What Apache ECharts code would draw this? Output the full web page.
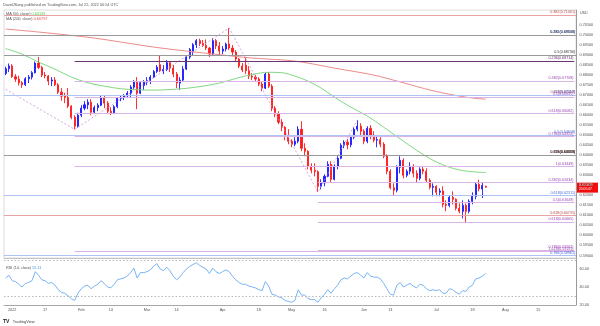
<!DOCTYPE html>
<html><head><meta charset="utf-8">
<script src="https://cdn.jsdelivr.net/npm/echarts@6/dist/echarts.min.js"></script>
<style>html,body{margin:0;padding:0;background:#fff}#c{width:600px;height:326px}</style>
</head><body><div id="c"></div>
<script>
// ================= DATA =================
const firstDay = '2021-12-30';
const axisDayCount = 174;              // weekday slots on the time axis (incl. future space)

const opens = [
.6808,.6832,.6846,.6792,.6780,.6762,.6752,.6782,.6790,.6812,
.6860,.6838,.6800,.6796,.6770,.6776,.6752,.6715,.6695,.6688,
.6645,.6590,.6545,.6600,.6635,.6652,.6665,.6615,.6638,.6650,
.6688,.6660,.6620,.6612,.6642,.6684,.6690,.6696,.6710,.6740,
.6765,.6710,.6748,.6765,.6772,.6790,.6818,.6852,.6822,.6828,
.6862,.6835,.6805,.6760,.6775,.6830,.6890,.6915,.6952,.6972,
.6958,.6948,.6935,.6905,.6972,.6945,.6920,.6930,.6955,.6935,
.6915,.6880,.6845,.6850,.6822,.6795,.6790,.6780,.6755,.6735,
.6805,.6745,.6635,.6605,.6565,.6540,.6495,.6470,.6455,.6470,
.6530,.6435,.6420,.6345,.6325,.6318,.6245,.6262,.6295,.6355,
.6280,.6345,.6385,.6450,.6465,.6452,.6490,.6530,.6545,.6520,
.6470,.6535,.6495,.6475,.6478,.6455,.6395,.6320,.6238,.6225,
.6340,.6375,.6300,.6320,.6345,.6310,.6285,.6330,.6320,.6275,
.6240,.6245,.6215,.6222,.6155,.6150,.6190,.6180,.6135,.6120,
.6150,.6120,.6170,.6195,.6255,.6232,.6245];
const closes = [
.6832,.6846,.6792,.6780,.6762,.6752,.6782,.6790,.6812,.6860,
.6838,.6800,.6796,.6770,.6776,.6752,.6715,.6695,.6688,.6645,
.6590,.6545,.6600,.6635,.6652,.6665,.6615,.6638,.6650,.6688,
.6660,.6620,.6612,.6642,.6684,.6690,.6696,.6710,.6740,.6765,
.6710,.6762,.6765,.6772,.6790,.6818,.6840,.6822,.6828,.6862,
.6835,.6805,.6760,.6775,.6830,.6890,.6928,.6952,.6972,.6958,
.6948,.6935,.6905,.6972,.6945,.6920,.6930,.6955,.6935,.6915,
.6880,.6845,.6825,.6822,.6795,.6790,.6780,.6755,.6735,.6805,
.6745,.6635,.6605,.6565,.6540,.6495,.6470,.6455,.6470,.6530,
.6435,.6420,.6345,.6325,.6318,.6245,.6262,.6295,.6355,.6280,
.6345,.6385,.6450,.6465,.6452,.6490,.6530,.6545,.6520,.6470,
.6535,.6495,.6475,.6478,.6455,.6395,.6320,.6238,.6225,.6340,
.6375,.6300,.6320,.6345,.6310,.6285,.6330,.6320,.6275,.6240,
.6245,.6215,.6222,.6155,.6150,.6190,.6180,.6135,.6120,.6150,
.6120,.6170,.6195,.6255,.6232,.6249,.62409];
const lows = [
.6800,.6815,.6786,.6766,.6748,.6736,.6745,.6760,.6778,.6808,
.6830,.6790,.6784,.6750,.6745,.6745,.6705,.6672,.6660,.6635,
.6580,.6529,.6538,.6590,.6625,.6630,.6600,.6605,.6620,.6645,
.6635,.6610,.6600,.6605,.6635,.6670,.6675,.6685,.6690,.6730,
.6630,.6705,.6725,.6750,.6755,.6785,.6810,.6815,.6805,.6820,
.6815,.6790,.6735,.6726,.6765,.6825,.6880,.6900,.6935,.6945,
.6940,.6925,.6890,.6895,.6930,.6900,.6905,.6918,.6925,.6900,
.6865,.6835,.6815,.6805,.6780,.6775,.6770,.6745,.6720,.6730,
.6735,.6620,.6590,.6555,.6520,.6475,.6455,.6440,.6445,.6460,
.6420,.6395,.6330,.6310,.6295,.6217,.6230,.6245,.6290,.6265,
.6275,.6330,.6380,.6435,.6430,.6440,.6480,.6520,.6500,.6455,
.6460,.6480,.6465,.6440,.6440,.6385,.6305,.6230,.6197,.6215,
.6310,.6285,.6290,.6305,.6290,.6265,.6275,.6305,.6265,.6230,
.6195,.6195,.6195,.6140,.6120,.6140,.6155,.6125,.6110,.6085,
.6061,.6110,.6155,.6180,.6220,.6187,.6238];
const highs = [
.6842,.6858,.6855,.6805,.6797,.6770,.6790,.6800,.6820,.6868,
.6890,.6846,.6815,.6800,.6790,.6790,.6760,.6735,.6712,.6735,
.6650,.6600,.6612,.6650,.6670,.6680,.6680,.6648,.6660,.6700,
.6700,.6670,.6640,.6650,.6690,.6700,.6705,.6720,.6750,.6775,
.6790,.6770,.6775,.6790,.6800,.6825,.6850,.6900,.6850,.6875,
.6870,.6850,.6815,.6790,.6845,.6900,.6935,.6960,.6980,.6982,
.6975,.6978,.6940,.6985,.6980,.6965,.6945,.6962,.7035,.6950,
.6925,.6885,.6860,.6890,.6845,.6810,.6800,.6790,.6770,.6815,
.6815,.6755,.6645,.6620,.6580,.6545,.6530,.6480,.6490,.6545,
.6570,.6460,.6425,.6360,.6360,.6325,.6280,.6305,.6370,.6370,
.6355,.6395,.6460,.6475,.6480,.6500,.6540,.6576,.6560,.6530,
.6545,.6550,.6520,.6495,.6490,.6465,.6405,.6330,.6260,.6350,
.6395,.6385,.6330,.6365,.6355,.6325,.6340,.6345,.6335,.6285,
.6260,.6250,.6235,.6245,.6175,.6200,.6220,.6185,.6160,.6175,
.6160,.6180,.6215,.6265,.6278,.6262,.6248];

const rsi14 = [
50,53,47,46,43,40,44,45,47,57,
53,48,47,44,45,42,37,34,33,30,
27,25,33,38,41,42,38,41,43,47,
44,40,39,43,48,49,50,52,56,61,
50,56,56,57,59,63,66,60,58,62,
58,52,48,51,56,60,63,65,67,64,
62,60,55,61,57,55,57,59,57,52,
48,45,43,43,41,40,39,37,36,46,
41,32,31,29,28,25,24,23,25,37,
31,31,27,26,26,23,28,32,37,33,
38,42,48,50,49,52,55,56,53,50,
56,52,51,51,49,44,38,32,31,42,
45,40,42,44,41,39,43,42,38,36,
37,36,37,33,33,38,37,34,32,36,
35,40,42,49,50,52,55.11];

const ma50Points = [
['2021-12-30',.6932],['2022-01-06',.6905],['2022-01-13',.6865],['2022-01-20',.6830],
['2022-01-27',.6790],['2022-02-03',.6762],['2022-02-10',.6745],['2022-02-17',.6732],
['2022-02-24',.6727],['2022-03-03',.6725],['2022-03-10',.6728],['2022-03-17',.6734],
['2022-03-24',.6745],['2022-03-31',.6760],['2022-04-07',.6783],['2022-04-14',.6803],
['2022-04-21',.6814],['2022-04-27',.6812],['2022-05-03',.6795],['2022-05-09',.6770],
['2022-05-13',.6735],['2022-05-19',.6690],['2022-05-26',.6640],['2022-06-02',.6596],
['2022-06-09',.6540],['2022-06-16',.6482],['2022-06-23',.6425],['2022-06-30',.6375],
['2022-07-07',.6340],['2022-07-14',.6321],['2022-07-22',.63139]];
const ma200Points = [
['2021-12-30',.7030],['2022-01-13',.7015],['2022-01-27',.6998],['2022-02-07',.6985],
['2022-02-17',.6965],['2022-03-03',.6940],['2022-03-17',.6920],['2022-03-31',.6902],
['2022-04-14',.6885],['2022-05-03',.6870],['2022-05-19',.6835],['2022-06-06',.6800],
['2022-06-16',.6766],['2022-06-30',.6722],['2022-07-14',.6690],['2022-07-22',.66797]];
const swingPoints = [
['2021-12-30',.6729],['2022-01-28',.6529],['2022-04-05',.7035],['2022-05-12',.6217],['2022-05-30',.6576]];

const timeTicks = [
['2022-01-03','2022'],['2022-01-17','17'],['2022-02-01','Feb'],['2022-02-14','14'],
['2022-03-01','Mar'],['2022-03-14','14'],['2022-04-01','Apr'],['2022-04-18','18'],
['2022-05-02','May'],['2022-05-16','16'],['2022-06-01','Jun'],['2022-06-13','13'],
['2022-07-01','Jul'],['2022-07-18','18'],['2022-08-01','Aug'],['2022-08-15','15']];
const priceTicks = [0.590,0.595,0.600,0.605,0.610,0.615,0.620,0.625,0.630,0.635,0.640,0.645,
  0.650,0.655,0.660,0.665,0.670,0.675,0.680,0.685,0.690,0.695,0.700,0.705];
const rsiTicks = [20,40,60];
const rsiBands = [70,30];

// long-term fib levels (full width)
const fibFullLevels = [0.71061,0.69936,0.69548,0.68736,0.67118,0.67007,0.64608,0.64311,0.64019,0.63698,0.62311,0.60735,0.58961];
const fibFullRatios = ['0.382','0.236','0.382','0.5','0.618','0.5','0.5','0.786','0.618','0.5','0.618','0.618','0.786'];
// extension from the Jan 28 low
const fibAStart = '2022-01-28';
const fibALevels = [0.68714,0.67708,0.66895,0.66082,0.64924,0.63449,0.59191];
const fibARatios = ['0.236','0.382','0.5','0.618','0.786','1','1.618'];
// extension from the May 12 low
const fibBStart = '2022-05-12';
const fibBLevels = [0.62634,0.61649,0.60665,0.59262];
const fibBRatios = ['0.382','0.5','0.618','0.786'];

const headerText = 'DavidJSong published on TradingView.com, Jul 22, 2022 00:54 UTC';
const ma50Last = '0.63139', ma200Last = '0.66797', rsiLast = '55.11', countdown = '20:05:07';

// ================= STYLE =================
const FONT = 'Liberation Sans, Arial, sans-serif';
const tones = {
  red:{line:'#e9a3a3',text:'#b04a48'}, blue:{line:'#aec2f5',text:'#4a6bd6'},
  gray:{line:'#999999',text:'#3a3a3a'}, purple:{line:'#dbb3e6',text:'#9a48b0'},
  dark:{line:'#6a3572',text:'#5e2a66'}
};
const fullTone = ['red','blue','gray','gray','red','blue','blue','red','gray','gray','blue','red','blue'];
const aTone = ['dark','purple','purple','purple','purple','purple','purple'];
const bTone = ['purple','purple','purple','purple'];

// ================= BUILD =================
const cats = [];
{ const p = firstDay.split('-').map(Number); const d = new Date(Date.UTC(p[0],p[1]-1,p[2]));
  while (cats.length < axisDayCount) { const wd=d.getUTCDay(); if (wd!==0&&wd!==6) cats.push(d.toISOString().slice(0,10)); d.setUTCDate(d.getUTCDate()+1); } }
const lastCat = cats[cats.length-1];
const tickMap = Object.fromEntries(timeTicks);
const candleData = opens.map((o,i)=>[o,closes[i],lows[i],highs[i]]);

// group fib marks by tone -> one carrier series per tone
const marksByTone = {};
function add(t,item){(marksByTone[t]=marksByTone[t]||[]).push(item);}
const txt = (r,v)=>r+'('+v.toFixed(5)+')';
fibFullLevels.forEach((v,i)=>add(fullTone[i],{yAxis:v,label:{formatter:txt(fibFullRatios[i],v)}}));
fibALevels.forEach((v,i)=>add(aTone[i],[{coord:[fibAStart,v],label:{formatter:txt(fibARatios[i],v)}},{coord:[lastCat,v]}]));
fibBLevels.forEach((v,i)=>add(bTone[i],[{coord:[fibBStart,v],label:{formatter:txt(fibBRatios[i],v)}},{coord:[lastCat,v]}]));
const fibSeries = Object.keys(marksByTone).map(t=>({
  type:'line',xAxisIndex:0,yAxisIndex:0,data:[],symbol:'none',z:2,
  lineStyle:{color:tones[t].line},itemStyle:{color:tones[t].line},
  markLine:{silent:true,symbol:['none','none'],animation:false,
    lineStyle:{color:tones[t].line,width:1,type:'solid',opacity:1},
    itemStyle:{color:tones[t].line},
    label:{show:true,position:'insideEndTop',distance:0.8,fontSize:3.7,fontFamily:FONT,color:tones[t].text},
    emphasis:{disabled:true},
    data:marksByTone[t]}
}));

const axisTxt = {fontSize:3.8,fontFamily:FONT,color:'#555'};
const chart = echarts.init(document.getElementById('c'),null,{renderer:'canvas',width:600,height:326});
const option = {
  animation:false, backgroundColor:'#fff',
  grid:[
    {left:4,right:24,top:10,height:248,show:true,borderColor:'#dcdcdc',borderWidth:1,containLabel:false,outerBoundsMode:'none'},
    {left:4,right:24,top:258,height:47,show:false,containLabel:false,outerBoundsMode:'none'}
  ],
  xAxis:[
    {type:'category',gridIndex:0,data:cats,boundaryGap:true,axisLine:{show:true,lineStyle:{color:'#c4c4c4'}},axisTick:{show:false},axisLabel:{show:false},splitLine:{show:false}},
    {type:'category',gridIndex:1,data:cats,boundaryGap:true,axisLine:{show:true,lineStyle:{color:'#a8a8a8'}},axisTick:{show:false},
     axisLabel:Object.assign({},axisTxt,{margin:2.5,interval:(i,v)=>tickMap[v]!==undefined,formatter:v=>tickMap[v]||''}),splitLine:{show:false}}
  ],
  yAxis:[
    {type:'value',gridIndex:0,position:'right',min:0.58873,max:0.71249,axisLine:{show:true,lineStyle:{color:'#9a9a9a'}},axisTick:{show:false},splitLine:{show:false},
     axisLabel:Object.assign({},axisTxt,{margin:3.5,customValues:priceTicks,formatter:v=>v.toFixed(5)})},
    {type:'value',gridIndex:1,position:'right',min:20,max:72.2,axisLine:{show:true,lineStyle:{color:'#9a9a9a'}},axisTick:{show:false},splitLine:{show:false},
     axisLabel:Object.assign({},axisTxt,{margin:3.5,customValues:rsiTicks,formatter:v=>v.toFixed(2)})}
  ],
  series:fibSeries.concat([
    {type:'candlestick',xAxisIndex:0,yAxisIndex:0,data:candleData,barWidth:1.6,z:3,
     itemStyle:{color:'#1c1cff',color0:'#ff1c1c',borderColor:'#1c1cff',borderColor0:'#ff1c1c',borderWidth:0.9}},
    {type:'line',xAxisIndex:0,yAxisIndex:0,data:ma200Points,smooth:0.35,symbol:'none',lineStyle:{color:'#ee8a8a',width:1},z:4},
    {type:'line',xAxisIndex:0,yAxisIndex:0,data:ma50Points,smooth:0.35,symbol:'none',lineStyle:{color:'#80d880',width:1},z:4},
    {type:'line',xAxisIndex:0,yAxisIndex:0,data:swingPoints,symbol:'none',lineStyle:{color:'#c890d8',width:0.8,type:[2,2]},z:4},
    {type:'line',xAxisIndex:1,yAxisIndex:1,data:rsi14,symbol:'none',lineStyle:{color:'#78b4f2',width:1},
     markLine:{silent:true,symbol:['none','none'],label:{show:false},lineStyle:{color:'#b8b8b8',type:[1.5,2],width:1},data:rsiBands.map(v=>({yAxis:v}))}}
  ]),
  graphic:[
    {type:'text',left:3,top:2.5,style:{text:headerText,fontSize:3.8,fontFamily:FONT,fill:'#555'}},
    {type:'text',left:6,top:11.5,style:{text:'{a|MA (50, close)} {b|'+ma50Last+'}',fontFamily:FONT,fontSize:3.8,rich:{a:{fill:'#555',fontSize:3.8},b:{fill:'#4cc94c',fontSize:3.8}}}},
    {type:'text',left:6,top:17,style:{text:'{a|MA (200, close)} {b|'+ma200Last+'}',fontFamily:FONT,fontSize:3.8,rich:{a:{fill:'#555',fontSize:3.8},b:{fill:'#e25555',fontSize:3.8}}}},
    {type:'text',left:580,top:11,style:{text:'USD',fontSize:3.6,fontFamily:FONT,fill:'#555'}},
    {type:'text',left:6,top:266,style:{text:'{a|RSI (14, close)} {b|'+rsiLast+'}',fontFamily:FONT,fontSize:3.8,rich:{a:{fill:'#555',fontSize:3.8},b:{fill:'#4a90e2',fontSize:3.8}}}},
    {type:'text',left:3,top:315.5,style:{text:'{a|TV} {b|TradingView}',fontFamily:FONT,rich:{a:{fill:'#222',fontSize:5,fontWeight:'bold'},b:{fill:'#444',fontSize:4}}}}
  ]
};
chart.setOption(option);
// current-price tag positioned through the price axis
const lastClose = closes[closes.length-1];
const py = chart.convertToPixel({yAxisIndex:0},lastClose);
chart.setOption({graphic:option.graphic.concat([
  {type:'rect',shape:{x:577,y:py-4.5,width:21,height:10},style:{fill:'#f20d0d'}},
  {type:'text',left:579,top:py-3.8,style:{text:lastClose.toFixed(5),fontSize:3.8,fontFamily:FONT,fill:'#fff'}},
  {type:'text',left:579,top:py+0.8,style:{text:countdown,fontSize:3.3,fontFamily:FONT,fill:'#fff'}}
])});
</script></body></html>
